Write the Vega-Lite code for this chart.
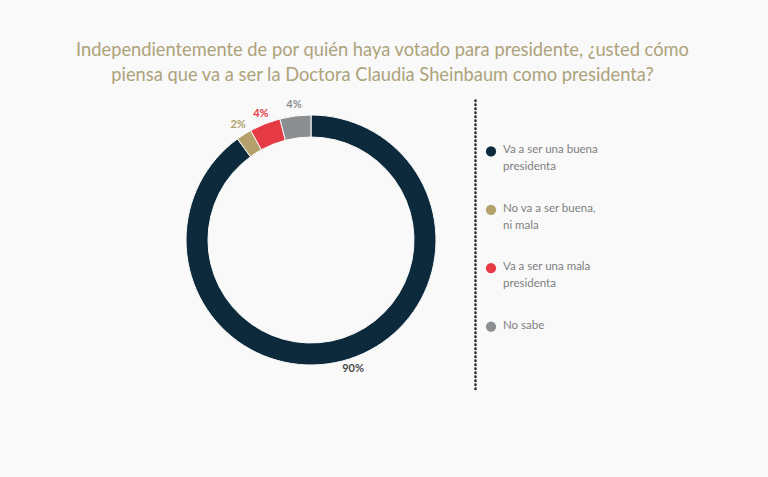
{
  "$schema": "https://vega.github.io/schema/vega-lite/v6.json",
  "background": "#f9f9f9",
  "padding": {"left": 75, "top": 40, "right": 160, "bottom": 85},
  "title": {
    "text": ["Independientemente de por quién haya votado para presidente, ¿usted cómo", "piensa que va a ser la Doctora Claudia Sheinbaum como presidenta?"],
    "font": "Lato",
    "fontSize": 18.3,
    "fontWeight": "normal",
    "color": "#ada27a",
    "lineHeight": 25,
    "anchor": "middle",
    "dx": 10,
    "offset": 14
  },
  "datasets": {
    "votes": [
      {"respuesta": "Va a ser una buena presidenta", "label": "Va a ser una buena\npresidenta", "pct": 90, "etiqueta": "90%", "orden": 1},
      {"respuesta": "No va a ser buena, ni mala", "label": "No va a ser buena,\nni mala", "pct": 2, "etiqueta": "2%", "orden": 2},
      {"respuesta": "Va a ser una mala presidenta", "label": "Va a ser una mala\npresidenta", "pct": 4, "etiqueta": "4%", "orden": 3},
      {"respuesta": "No sabe", "label": "No sabe", "pct": 4, "etiqueta": "4%", "orden": 4}
    ]
  },
  "spacing": 0,
  "hconcat": [
    {
      "width": 328,
      "height": 280,
      "data": {"name": "votes"},
      "layer": [
        {
          "mark": {"type": "arc", "outerRadius": 125, "innerRadius": 103, "stroke": "#f9f9f9", "strokeWidth": 1},
          "encoding": {
            "theta": {"field": "pct", "type": "quantitative", "stack": true},
            "order": {"field": "orden", "type": "quantitative"},
            "color": {
              "field": "respuesta",
              "type": "nominal",
              "scale": {
                "domain": ["Va a ser una buena presidenta", "No va a ser buena, ni mala", "Va a ser una mala presidenta", "No sabe"],
                "range": ["#0c2a3b", "#b3a06a", "#e63a45", "#8c8f91"]
              },
              "legend": null
            }
          }
        },
        {
          "mark": {"type": "text", "radius": 136, "font": "Lato", "fontSize": 11, "fontWeight": "bold"},
          "encoding": {
            "theta": {"field": "pct", "type": "quantitative", "stack": true},
            "order": {"field": "orden", "type": "quantitative"},
            "text": {"field": "etiqueta", "type": "nominal"},
            "color": {
              "field": "respuesta",
              "type": "nominal",
              "scale": {
                "domain": ["Va a ser una buena presidenta", "No va a ser buena, ni mala", "Va a ser una mala presidenta", "No sabe"],
                "range": ["#4a4a4a", "#b3a06a", "#e63a45", "#8c8f91"]
              },
              "legend": null
            }
          }
        }
      ],
      "resolve": {"scale": {"color": "independent"}}
    },
    {
      "width": 32,
      "height": 292,
      "data": {"name": "votes"},
      "encoding": {
        "y": {
          "field": "respuesta",
          "type": "nominal",
          "sort": ["Va a ser una buena presidenta", "No va a ser buena, ni mala", "Va a ser una mala presidenta", "No sabe"],
          "scale": {"type": "point", "padding": 1.03, "align": 0.44},
          "axis": {
            "domain": true,
            "domainColor": "#2a2a2a",
            "domainWidth": 2.5,
            "domainDash": [0.5, 3.5],
            "domainCap": "round",
            "ticks": false,
            "labels": false,
            "title": null,
            "grid": false
          }
        }
      },
      "layer": [
        {
          "mark": {"type": "circle", "size": 105, "opacity": 1},
          "encoding": {
            "color": {
              "field": "respuesta",
              "type": "nominal",
              "scale": {
                "domain": ["Va a ser una buena presidenta", "No va a ser buena, ni mala", "Va a ser una mala presidenta", "No sabe"],
                "range": ["#0c2a3b", "#b3a06a", "#e63a45", "#8c8f91"]
              },
              "legend": null
            }
          }
        },
        {
          "mark": {"type": "text", "align": "left", "baseline": "top", "dx": 12, "dy": -7, "font": "Lato", "fontSize": 11.5, "lineHeight": 17, "lineBreak": "\n", "color": "#808080"},
          "encoding": {
            "text": {"field": "label", "type": "nominal"}
          }
        }
      ]
    }
  ],
  "config": {
    "view": {"stroke": null}
  }
}
